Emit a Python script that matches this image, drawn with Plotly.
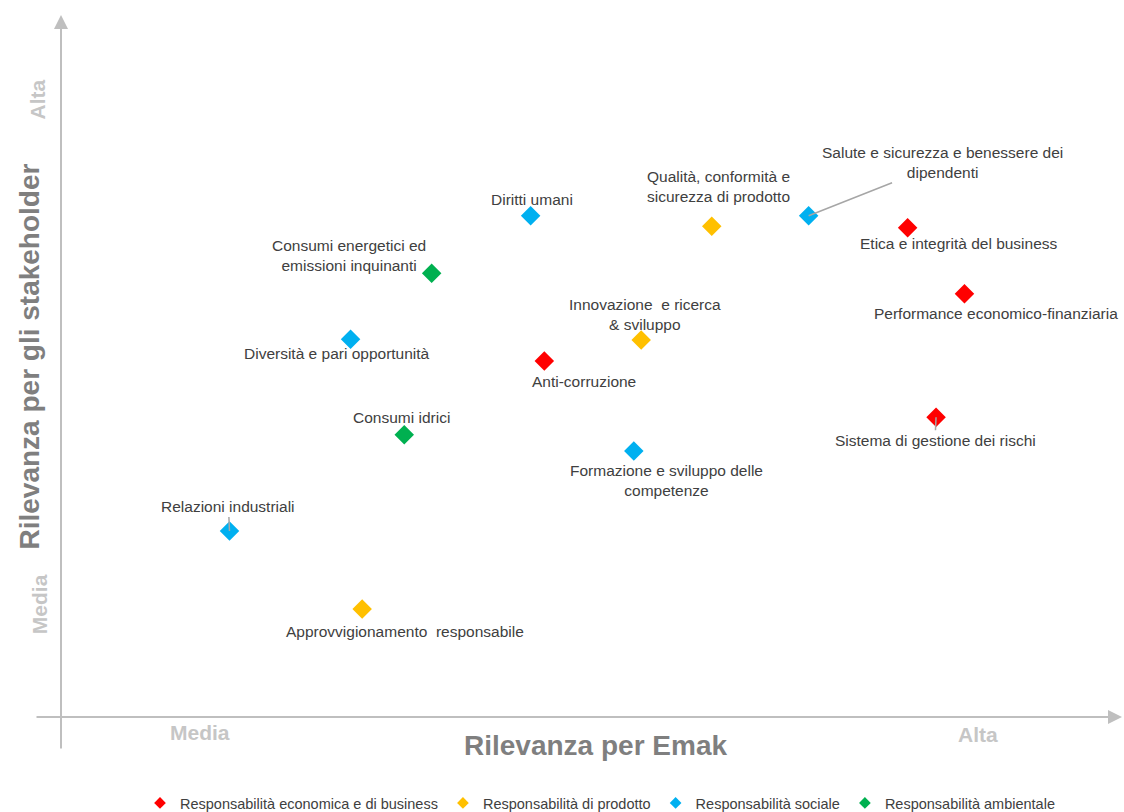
import plotly.graph_objects as go

# ---- data (relevance scores, 0-10 scale) ----
categories = ["Responsabilità economica e di business", "Responsabilità di prodotto",
              "Responsabilità sociale", "Responsabilità ambientale"]
colors = ["#ff0000", "#ffc000", "#00b0f0", "#00b050"]

eco_topics = ["Etica e integrità del business", "Performance economico-finanziaria",
              "Anti-corruzione", "Sistema di gestione dei rischi"]
eco_x = [8.04, 8.58, 4.59, 8.31]
eco_y = [6.97, 6.03, 5.07, 4.27]

prod_topics = ["Qualità, conformità e<br>sicurezza di prodotto", "Innovazione  e ricerca<br>& sviluppo",
               "Approvvigionamento  responsabile"]
prod_x = [6.18, 5.51, 2.86]
prod_y = [6.99, 5.37, 1.54]

soc_topics = ["Salute e sicurezza e benessere dei<br>dipendenti", "Diritti umani",
              "Diversità e pari opportunità", "Formazione e sviluppo delle<br>competenze",
              "Relazioni industriali"]
soc_x = [7.10, 4.46, 2.75, 5.44, 1.60]
soc_y = [7.14, 7.14, 5.38, 3.79, 2.65]

env_topics = ["Consumi energetici ed<br>emissioni inquinanti", "Consumi idrici"]
env_x = [3.52, 3.26]
env_y = [6.32, 4.02]

x_ticks = ["Media", "Alta"]
y_ticks = ["Media", "Alta"]

# label offsets in pixels (dx, dy) relative to the marker, and whether a leader line is drawn
label_offsets = {
    "Etica e integrità del business": (51, 16, False),
    "Performance economico-finanziaria": (32, 20, False),
    "Anti-corruzione": (40, 20, False),
    "Sistema di gestione dei rischi": (-1, 23, True),
    "Qualità, conformità e<br>sicurezza di prodotto": (7, -40, False),
    "Innovazione  e ricerca<br>& sviluppo": (4, -26, False),
    "Approvvigionamento  responsabile": (43, 23, False),
    "Salute e sicurezza e benessere dei<br>dipendenti": (134, -53, True),
    "Diritti umani": (1, -16, False),
    "Diversità e pari opportunità": (-14, 14, False),
    "Formazione e sviluppo delle<br>competenze": (33, 30, False),
    "Relazioni industriali": (-1, -24, True),
    "Consumi energetici ed<br>emissioni inquinanti": (-83, -18, False),
    "Consumi idrici": (-3, -17, False),
}

series = [
    (categories[0], eco_topics, eco_x, eco_y, colors[0]),
    (categories[1], prod_topics, prod_x, prod_y, colors[1]),
    (categories[2], soc_topics, soc_x, soc_y, colors[2]),
    (categories[3], env_topics, env_x, env_y, colors[3]),
]

fig = go.Figure()
annotations = []
label_font = dict(family="Liberation Sans, Arial, sans-serif", size=15.5, color="#404040")

for name, topics, xs, ys, col in series:
    for t, x, y in zip(topics, xs, ys):
        dx, dy, leader = label_offsets[t]
        if leader:
            annotations.append(dict(
                x=x, y=y, xref="x", yref="y", text=t, showarrow=True,
                ax=dx, ay=dy, arrowhead=0, arrowwidth=1.5, arrowcolor="#a6a6a6",
                font=label_font, align="center",
            ))
        else:
            annotations.append(dict(
                x=x, y=y, xref="x", yref="y", text=t, showarrow=False,
                xshift=dx, yshift=-dy, font=label_font, align="center",
            ))

for name, topics, xs, ys, col in series:
    fig.add_trace(go.Scatter(
        x=xs, y=ys, mode="markers", name=name, showlegend=False,
        marker=dict(symbol="diamond", size=15, color=col),
        hoverinfo="text", text=topics,
    ))

# legend-only entries (small diamonds like the reference legend)
for name, col in zip(categories, colors):
    fig.add_trace(go.Scatter(
        x=[None], y=[None], mode="markers", name=name,
        marker=dict(symbol="diamond", size=9, color=col),
    ))

axis_gray = "#bfbfbf"
# axis arrows
annotations.append(dict(x=0, y=1, xref="paper", yref="paper", text="", showarrow=True,
                        ax=0, ay=735, axref="pixel", ayref="pixel",
                        arrowhead=2, arrowsize=1.4, arrowwidth=2, arrowcolor=axis_gray))
annotations.append(dict(x=(1122 - 61) / 1053, y=0, xref="paper", yref="paper", text="",
                        showarrow=True, ax=-1087, ay=0, axref="pixel", ayref="pixel",
                        arrowhead=2, arrowsize=1.4, arrowwidth=2, arrowcolor=axis_gray))

tick_font = dict(family="Liberation Sans, Arial, sans-serif", size=21, color="#c6c6c6")
# x tick labels
annotations.append(dict(x=1.32, y=0, xref="x", yref="paper", text="<b>%s</b>" % x_ticks[0],
                        showarrow=False, yshift=-29, font=tick_font))
annotations.append(dict(x=8.71, y=0, xref="x", yref="paper", text="<b>%s</b>" % x_ticks[1],
                        showarrow=False, yshift=-31, font=tick_font))
# y tick labels
annotations.append(dict(x=0, y=1.6, xref="paper", yref="y", text="<b>%s</b>" % y_ticks[0],
                        showarrow=False, xshift=-35, textangle=-90, font=tick_font))
annotations.append(dict(x=0, y=8.79, xref="paper", yref="y", text="<b>%s</b>" % y_ticks[1],
                        showarrow=False, xshift=-37, textangle=-90, font=tick_font))

title_font = dict(family="Liberation Sans, Arial, sans-serif", size=28, color="#7f7f7f")
annotations.append(dict(x=(595 - 61) / 1053, y=0, xref="paper", yref="paper",
                        text="<b>Rilevanza per Emak</b>", showarrow=False, yshift=-46,
                        font=title_font))
annotations.append(dict(x=0, y=(717 - 357) / 702, xref="paper", yref="paper",
                        text="<b>Rilevanza per gli stakeholder</b>", showarrow=False,
                        xshift=-50, textangle=-90, font=title_font))

fig.update_layout(
    width=1124, height=812,
    margin=dict(l=61, r=10, t=15, b=95, autoexpand=False),
    paper_bgcolor="white", plot_bgcolor="white",
    xaxis=dict(range=[0, 10], visible=False, fixedrange=True),
    yaxis=dict(range=[0, 10], visible=False, fixedrange=True),
    showlegend=True,
    legend=dict(orientation="h", x=(600 - 61) / 1053, xanchor="center",
                y=(717 - 803) / 702, yanchor="middle",
                font=dict(family="Liberation Sans, Arial, sans-serif", size=14.5,
                          color="#404040"),
                itemwidth=30, tracegroupgap=0),
    annotations=annotations,
)

fig.write_html("out.html", config={"displayModeBar": False},
               post_script="document.body.style.margin='0';document.body.style.overflow='hidden';")
